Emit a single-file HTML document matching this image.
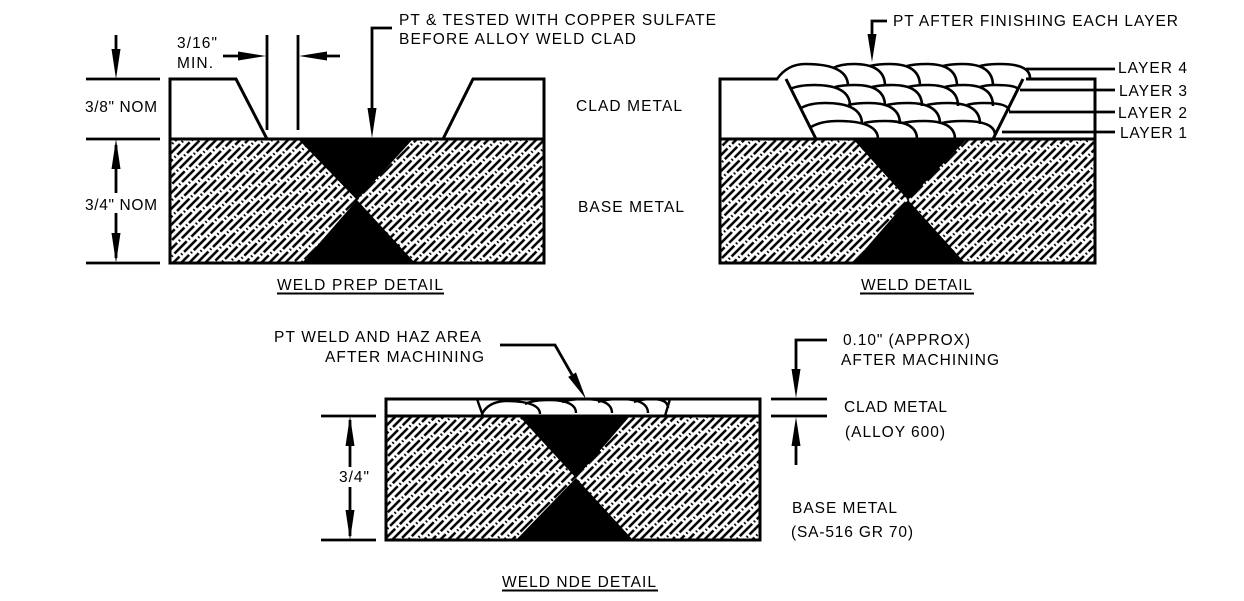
<!DOCTYPE html>
<html><head><meta charset="utf-8"><style>
html,body{margin:0;padding:0;background:#fff;}
svg{display:block;}
text{font-family:"Liberation Sans",Arial,sans-serif;font-size:15.5px;fill:#000;}
</style></head><body>
<svg width="1244" height="601" viewBox="0 0 1244 601" xmlns="http://www.w3.org/2000/svg">
<defs>
<pattern id="h" patternUnits="userSpaceOnUse" width="24" height="16.97" patternTransform="rotate(-45)">
<g stroke="#000" stroke-width="2.5" fill="none">
<line x1="0" y1="2.83" x2="17.5" y2="2.83"/>
<line x1="20" y1="2.83" x2="21.6" y2="2.83"/>
<line x1="8" y1="8.49" x2="24" y2="8.49"/>
<line x1="0" y1="8.49" x2="1.5" y2="8.49"/>
<line x1="4" y1="8.49" x2="5.6" y2="8.49"/>
<line x1="16" y1="14.14" x2="24" y2="14.14"/>
<line x1="0" y1="14.14" x2="9.5" y2="14.14"/>
<line x1="12" y1="14.14" x2="13.6" y2="14.14"/>
</g>
</pattern>
<clipPath id="cb"><rect x="386" y="399" width="374" height="17"/></clipPath>
</defs>
<rect width="1244" height="601" fill="#fff"/>

<!-- ============ WELD PREP DETAIL ============ -->
<rect x="170" y="139" width="374" height="124" fill="url(#h)"/>
<polygon points="298,139 413,139 357,200" fill="#000"/>
<polygon points="357,200 302,263 415,263" fill="#000"/>
<g fill="none" stroke="#000" stroke-width="3">
<rect x="170" y="139" width="374" height="124"/>
<polyline points="170,139 170,79 236,79 267,139"/>
<polyline points="443,139 473,79 544,79 544,139"/>
</g>
<g stroke="#000" stroke-width="2.8" fill="none">
<line x1="86" y1="79" x2="160" y2="79"/>
<line x1="86" y1="139" x2="160" y2="139"/>
<line x1="86" y1="263" x2="160" y2="263"/>
<line x1="116" y1="35" x2="116" y2="55"/>
<line x1="116" y1="145" x2="116" y2="193"/>
<line x1="116" y1="213" x2="116" y2="258"/>
<line x1="267" y1="35" x2="267" y2="130"/>
<line x1="298" y1="35" x2="298" y2="130"/>
<line x1="223" y1="56" x2="250" y2="56"/>
<line x1="315" y1="56" x2="340" y2="56"/>
<polyline points="392,28 372,28 372,115"/>
</g>
<g fill="#000">
<polygon points="116,79 111.5,49 120.5,49"/>
<polygon points="116,139 111.5,169 120.5,169"/>
<polygon points="116,263 111.5,233 120.5,233"/>
<polygon points="266,56 238,51.5 238,60.5"/>
<polygon points="299,56 327,51.5 327,60.5"/>
<polygon points="372,138 367.5,108 376.5,108"/>
</g>
<text x="177" y="48" textLength="40" lengthAdjust="spacing">3/16"</text>
<text x="177" y="68" textLength="36" lengthAdjust="spacing">MIN.</text>
<text x="85" y="112" textLength="72" lengthAdjust="spacing">3/8" NOM</text>
<text x="85" y="210" textLength="72" lengthAdjust="spacing">3/4" NOM</text>
<text x="399" y="25" textLength="317" lengthAdjust="spacing">PT &amp; TESTED WITH COPPER SULFATE</text>
<text x="399" y="44" textLength="237" lengthAdjust="spacing">BEFORE ALLOY WELD CLAD</text>
<text x="576" y="111" textLength="106" lengthAdjust="spacing">CLAD METAL</text>
<text x="578" y="212" textLength="106" lengthAdjust="spacing">BASE METAL</text>
<text x="277" y="290" textLength="166" lengthAdjust="spacing">WELD PREP DETAIL</text>
<line x1="277" y1="293.5" x2="444" y2="293.5" stroke="#000" stroke-width="2"/>

<!-- ============ WELD DETAIL ============ -->
<rect x="720" y="139" width="375" height="124" fill="url(#h)"/>
<polygon points="853,139 967,139 908,200" fill="#000"/>
<polygon points="908,200 853,263 965,263" fill="#000"/>
<g fill="none" stroke="#000" stroke-width="3">
<rect x="720" y="139" width="375" height="124"/>
<polyline points="720,139 720,79 778,79"/>
<line x1="786" y1="79" x2="816" y2="139"/>
<line x1="1023" y1="79" x2="993" y2="139"/>
<polyline points="1026,79 1095,79 1095,139"/>
</g>
<g fill="none" stroke="#000" stroke-width="2.6">
<path d="M777 79 Q787.6 64 805.4 64 Q848 64 848 86"/>
<path d="M833 68 Q840.8 64 853.8 64 Q885 64 885 86"/>
<path d="M870 66 Q877.5 64 890 64 Q920 64 920 86"/>
<path d="M907 66 Q914.5 64 927 64 Q957 64 957 86"/>
<path d="M943 66 Q950.5 64 963 64 Q993 64 993 86"/>
<path d="M980 66 Q987.5 64 1000 64 Q1030 64 1030 78"/>
<path d="M790 89 Q799 85 814 85 Q850 85 850 106"/>
<path d="M835 87 Q842.5 85 855 85 Q885 85 885 106"/>
<path d="M872 87 Q879.5 85 892 85 Q922 85 922 106"/>
<path d="M908 87 Q915.5 85 928 85 Q958 85 958 106"/>
<path d="M945 87 Q952 85 964 85 Q993 85 993 106"/>
<path d="M980 87 Q986 85 995 85 Q1018 85 1018 90"/>
<path d="M801 108 Q810 103 825 103 Q862 103 862 124"/>
<path d="M848 105 Q856 103 869 103 Q900 103 900 124"/>
<path d="M887 105 Q895 103 908 103 Q940 103 940 124"/>
<path d="M927 105 Q935 103 948 103 Q980 103 980 124"/>
<path d="M967 105 Q973 103 984 103 Q1009 103 1009 111"/>
<path d="M811 127 Q821 121 838 121 Q878 121 878 139"/>
<path d="M864 123 Q872 121 885 121 Q917 121 917 139"/>
<path d="M903 123 Q911 121 924 121 Q955 121 955 139"/>
<path d="M942 123 Q950 121 963 121 Q995 121 995 135"/>
</g>
<g stroke="#000" stroke-width="2.8" fill="none">
<line x1="1026" y1="69" x2="1115" y2="69"/>
<line x1="1020" y1="90" x2="1115" y2="90"/>
<line x1="1009" y1="112" x2="1115" y2="112"/>
<line x1="1002" y1="132" x2="1115" y2="132"/>
<polyline points="887,21 872,21 872,40"/>
</g>
<polygon points="872,62 867.5,34 876.5,34" fill="#000"/>
<text x="893" y="26" textLength="285" lengthAdjust="spacing">PT AFTER FINISHING EACH LAYER</text>
<text x="1118" y="73" textLength="69" lengthAdjust="spacing">LAYER 4</text>
<text x="1119" y="96" textLength="68" lengthAdjust="spacing">LAYER 3</text>
<text x="1118" y="118" textLength="69" lengthAdjust="spacing">LAYER 2</text>
<text x="1120" y="138" textLength="67" lengthAdjust="spacing">LAYER 1</text>
<text x="861" y="290" textLength="111" lengthAdjust="spacing">WELD DETAIL</text>
<line x1="860" y1="293.5" x2="974" y2="293.5" stroke="#000" stroke-width="2"/>

<!-- ============ WELD NDE DETAIL ============ -->
<rect x="386" y="416" width="374" height="124" fill="url(#h)"/>
<polygon points="519,416 630,416 576,478" fill="#000"/>
<polygon points="576,478 516,540 633,540" fill="#000"/>
<g fill="none" stroke="#000" stroke-width="3">
<rect x="386" y="416" width="374" height="124"/>
<rect x="386" y="399" width="374" height="17"/>
</g>
<g fill="none" stroke="#000" stroke-width="2.4" clip-path="url(#cb)">
<line x1="477" y1="399" x2="483" y2="416"/>
<line x1="670" y1="399" x2="665" y2="416"/>
<path d="M482 414 Q488 402 505 401 Q540 401 540 414"/>
<path d="M525 404 Q533 400 548 400 Q576 400 576 413"/>
<path d="M562 402 Q570 399 584 399 Q612 399 612 413"/>
<path d="M598 402 Q606 399 620 399 Q648 399 648 413"/>
<path d="M634 402 Q642 399 652 399 Q668 399 668 408"/>
</g>
<g stroke="#000" stroke-width="2.8" fill="none">
<line x1="321" y1="416" x2="376" y2="416"/>
<line x1="321" y1="540" x2="376" y2="540"/>
<line x1="350" y1="420" x2="350" y2="467"/>
<line x1="350" y1="487" x2="350" y2="536"/>
<line x1="771" y1="399" x2="827" y2="399"/>
<line x1="771" y1="416" x2="827" y2="416"/>
<polyline points="827,340 796,340 796,375"/>
<line x1="796" y1="440" x2="796" y2="465"/>
<polyline points="500,345 555,345 572,374.7"/>
</g>
<g fill="#000">
<polygon points="350,416 345.5,446 354.5,446"/>
<polygon points="350,540 345.5,510 354.5,510"/>
<polygon points="796,398 791.5,369 800.5,369"/>
<polygon points="796,417 791.5,446 800.5,446"/>
<polygon points="586,399 568.2,376.9 576,372.5"/>
</g>
<text x="274" y="342" textLength="207" lengthAdjust="spacing">PT WELD AND HAZ AREA</text>
<text x="325" y="362" textLength="159" lengthAdjust="spacing">AFTER MACHINING</text>
<text x="843" y="345" textLength="127" lengthAdjust="spacing">0.10" (APPROX)</text>
<text x="841" y="365" textLength="158" lengthAdjust="spacing">AFTER MACHINING</text>
<text x="844" y="412" textLength="103" lengthAdjust="spacing">CLAD METAL</text>
<text x="845" y="437" textLength="100" lengthAdjust="spacing">(ALLOY 600)</text>
<text x="792" y="513" textLength="105" lengthAdjust="spacing">BASE METAL</text>
<text x="791" y="537" textLength="122" lengthAdjust="spacing">(SA-516 GR 70)</text>
<text x="339" y="482" textLength="30" lengthAdjust="spacing">3/4"</text>
<text x="502" y="587" textLength="154" lengthAdjust="spacing">WELD NDE DETAIL</text>
<line x1="502" y1="590.5" x2="658" y2="590.5" stroke="#000" stroke-width="2"/>
</svg>
</body></html>
